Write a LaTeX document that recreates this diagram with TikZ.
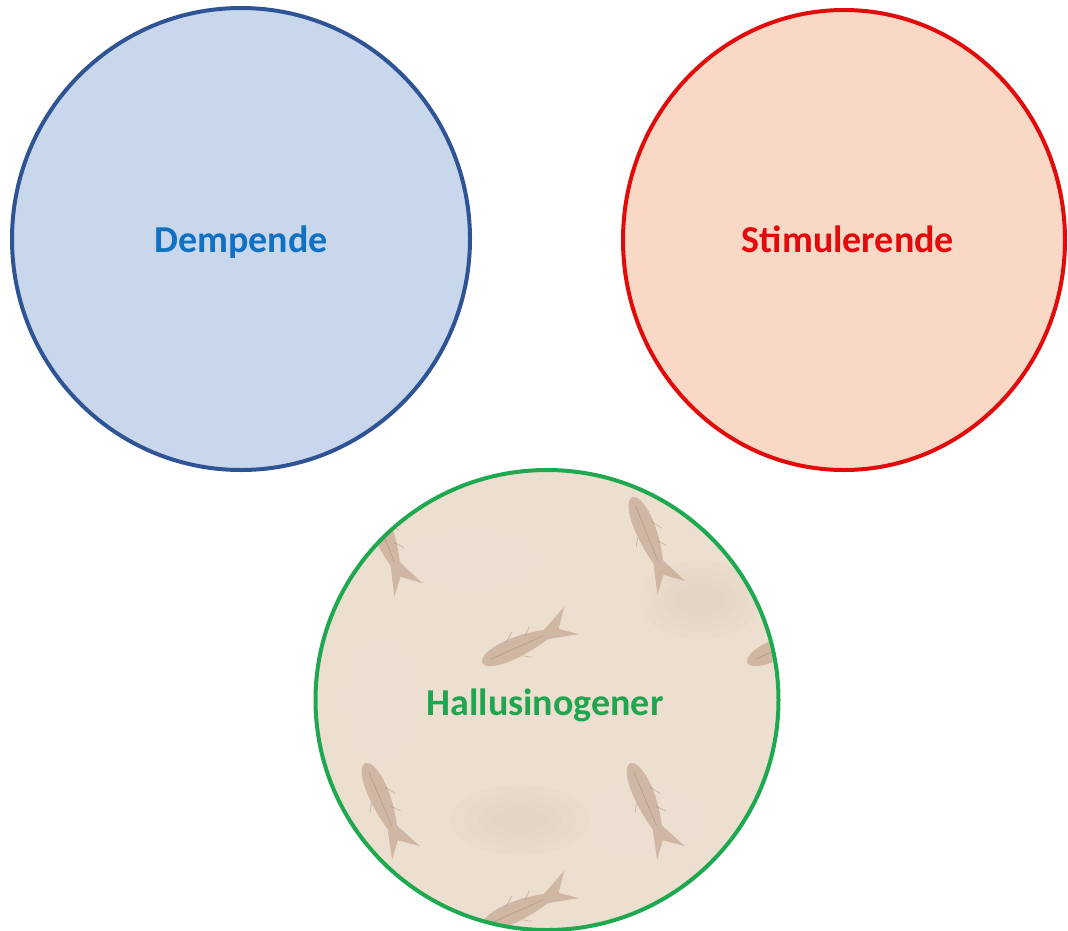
\documentclass[tikz,border=0pt]{standalone}
\usepackage{fontspec}
\setmainfont{Carlito}
\usetikzlibrary{shapes.geometric}
\definecolor{bluefill}{HTML}{C8D7EC}
\definecolor{blueline}{HTML}{2F5496}
\definecolor{bluetext}{HTML}{1070C2}
\definecolor{redfill}{HTML}{F9D9C6}
\definecolor{redline}{HTML}{E20A0A}
\definecolor{beige}{HTML}{ECDFCF}
\definecolor{beigelight}{HTML}{F1E7DA}
\definecolor{greenline}{HTML}{1EA84F}
\definecolor{greentext}{HTML}{22A550}
\definecolor{fishc}{HTML}{BE9D88}
\tikzset{
  blob/.style={shape=ellipse, inner sep=0pt, line width=4bp},
  label/.style={font=\bfseries\fontsize{38bp}{45bp}\selectfont, anchor=base},
  fishbody/.style={fill=fishc, fill opacity=0.6, draw=none},
  fishline/.style={draw=fishc!75!black, line width=0.8bp, opacity=0.35},
  pics/fish/.style={code={
    \path[fishbody] (0,0) .. controls (2,-11) and (35,-15) .. (70,-5)
      -- (98,-18) -- (84,0) -- (100,13) -- (70,5)
      .. controls (35,13) and (2,11) .. (0,0) -- cycle;
    \path[fishline] (10,0) -- (68,0);
    \path[fishline] (30,-9) -- (40,-16) (50,-7) -- (58,-14) (40,10) -- (48,15);
  }}
}
\begin{document}
\begin{tikzpicture}[x=1bp,y=-1bp]
\useasboundingbox (0,0) rectangle (1068,931);
% blue
\node[blob, draw=blueline, fill=bluefill, minimum width=458bp, minimum height=462bp] (blue) at (241,239) {};
\node[label, text=bluetext] (dempende) at (241,252) {Dempende};
% red
\node[blob, draw=redline, fill=redfill, minimum width=442bp, minimum height=460bp] (red) at (844,240) {};
\node[label, text=redline] (stimulerende) at (848,252) {Stimulerende};
% green with fossil texture
\fill[beige] (547,700) ellipse [x radius=231.5, y radius=230];
\begin{scope}
  \clip (547,700) ellipse [x radius=231.5, y radius=230];
  \foreach \r in {1,0.8,0.6,0.4} {
    \fill[beigelight, opacity=0.12] (470,560) ellipse [x radius=90*\r, y radius=40*\r];
    \fill[beigelight, opacity=0.12] (640,820) ellipse [x radius=80*\r, y radius=50*\r];
    \fill[beigelight, opacity=0.10] (380,700) ellipse [x radius=50*\r, y radius=80*\r];
    \fill[fishc, opacity=0.03] (700,600) ellipse [x radius=60*\r, y radius=40*\r];
    \fill[fishc, opacity=0.03] (520,820) ellipse [x radius=70*\r, y radius=35*\r];
  }
  \pic[rotate=-68] at (632,497) {fish};
  \pic[rotate=-68] at (369,499) {fish};
  \pic[rotate=-67] at (365,763) {fish};
  \pic[rotate=-67] at (630,763) {fish};
  \pic[rotate=24] at (482,663) {fish};
  \pic[rotate=24] at (747,663) {fish};
  \pic[rotate=24] at (482,927) {fish};
\end{scope}
\node[blob, draw=greenline, minimum width=463bp, minimum height=460bp] (green) at (547,700) {};
\node[label, text=greentext] (hallu) at (545,715) {Hallusinogener};
\end{tikzpicture}
\end{document}
